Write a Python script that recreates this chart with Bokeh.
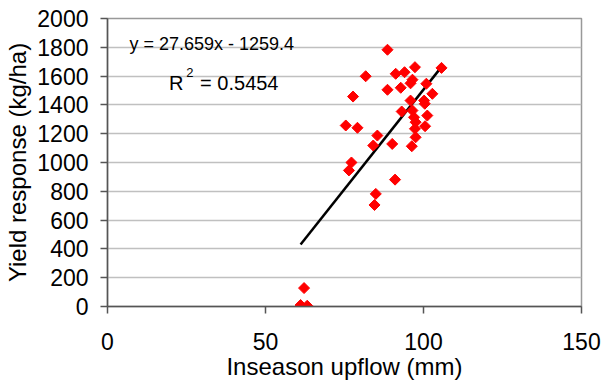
import math
from bokeh.plotting import figure
from bokeh.models import ColumnDataSource, Label, FixedTicker, Range1d
from bokeh.embed import file_html
from bokeh.resources import INLINE

upflow_mm = [61.1, 63.2, 62.2,
             75.4, 76.4, 77.2, 77.7, 79.1,
             81.7, 84.1, 84.5, 84.9, 85.4,
             88.6, 88.6, 90.1, 91.0,
             91.2, 92.8, 93.1, 94.0,
             95.9, 96.5, 95.9, 96.3, 96.5, 97.0, 97.3, 97.3, 97.5, 97.5,
             100.2, 100.4, 100.9, 101.2, 100.5, 102.8, 105.7]
yield_resp = [10, 5, 128,
              1257, 945, 1000, 1458, 1241,
              1599, 1118, 705, 782, 1187,
              1783, 1505, 1129, 881,
              1616, 1519, 1354, 1627,
              1430, 1575, 1550, 1113, 1361, 1314, 1662, 1234, 1280, 1175,
              1430, 1408, 1547, 1326, 1252, 1477, 1657]
slope = 27.659
intercept = -1259.4
x_ticks = [0, 50, 100, 150]
y_ticks = list(range(0, 2001, 200))
eq_text = "y = 27.659x - 1259.4"
r2_sym = "R"
r2_exp = "2"
r2_val = "= 0.5454"

FONT = "Liberation Sans"

p = figure(width=602, height=385, output_backend="svg", toolbar_location=None,
           x_range=Range1d(0, 150), y_range=Range1d(0, 2000),
           min_border_left=107, min_border_right=21, min_border_top=18, min_border_bottom=79)
p.outline_line_color = "#999999"
p.outline_line_width = 1.5

p.xgrid.grid_line_color = None
p.ygrid.grid_line_color = "#c0c0c0"
p.ygrid.grid_line_width = 1.5
p.ygrid.ticker = FixedTicker(ticks=y_ticks)

p.xaxis.ticker = FixedTicker(ticks=x_ticks)
p.yaxis.ticker = FixedTicker(ticks=y_ticks)
for ax in (p.xaxis[0], p.yaxis[0]):
    ax.axis_line_color = "#555555"
    ax.axis_line_width = 1.5
    ax.major_tick_line_color = "#555555"
    ax.major_tick_line_width = 1.5
    ax.major_tick_in = 0
    ax.major_tick_out = 7
    ax.minor_tick_line_color = None
    ax.major_label_text_font = FONT
    ax.major_label_text_font_size = "23px"
    ax.major_label_text_color = "black"
    ax.axis_label_text_font = FONT
    ax.axis_label_text_font_size = "24px"
    ax.axis_label_text_font_style = "normal"
    ax.axis_label_text_color = "black"
p.xaxis.axis_label = "Inseason upflow (mm)"
p.yaxis.axis_label = "Yield response (kg/ha)"
p.xaxis.major_label_standoff = 19
p.yaxis.major_label_standoff = 12
p.xaxis.axis_label_standoff = 0
p.yaxis.axis_label_standoff = 3

# trend line over data range
xmin, xmax = min(upflow_mm), max(upflow_mm)
p.line([xmin, xmax], [slope * xmin + intercept, slope * xmax + intercept],
       line_color="black", line_width=2.5)

src = ColumnDataSource(dict(x=upflow_mm, y=yield_resp))
p.scatter("x", "y", source=src, marker="square", size=7.8, angle=math.pi / 4,
          fill_color="red", line_color="red")

p.add_layout(Label(x=33, y=1820, text=eq_text, text_font=FONT, text_font_size="18px",
                   text_align="center", text_baseline="middle", text_color="black"))
p.add_layout(Label(x=19.5, y=1551, text=r2_sym, text_font=FONT, text_font_size="20px",
                   text_align="left", text_baseline="alphabetic", text_color="black"))
p.add_layout(Label(x=24.9, y=1626, text=r2_exp, text_font=FONT, text_font_size="13px",
                   text_align="left", text_baseline="alphabetic", text_color="black"))
p.add_layout(Label(x=29.3, y=1551, text=r2_val, text_font=FONT, text_font_size="20px",
                   text_align="left", text_baseline="alphabetic", text_color="black"))

open("out.html", "w").write(file_html(p, INLINE))
